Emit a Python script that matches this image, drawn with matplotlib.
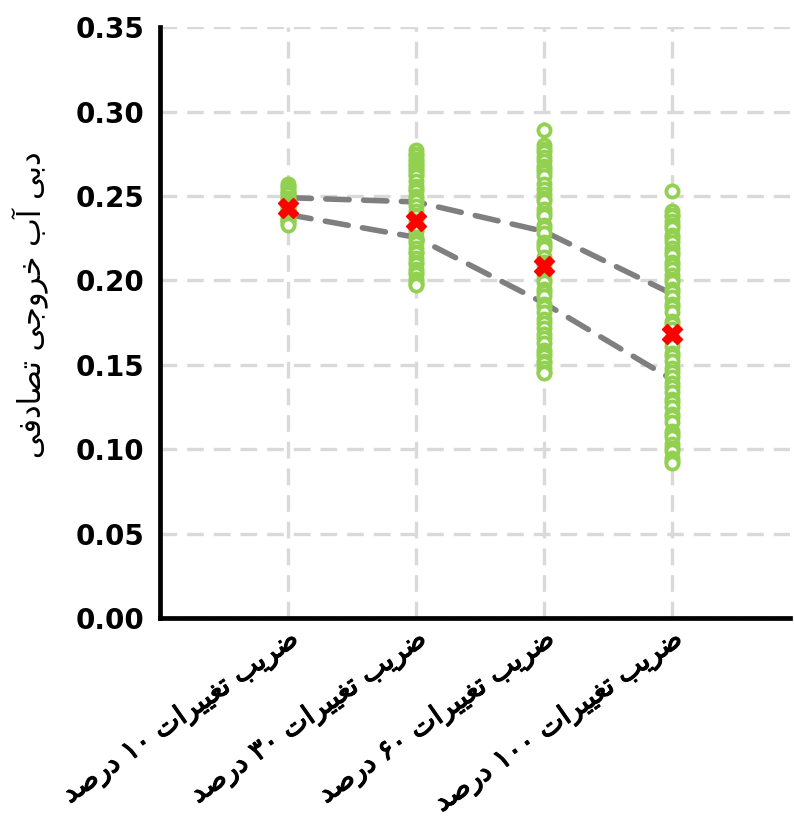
import matplotlib
matplotlib.use("Agg")
import matplotlib.pyplot as plt
import matplotlib.patheffects as pe

# ---------------------------------------------------------------------------
# Data
# ---------------------------------------------------------------------------
categories = [
    "ضریب تغییرات ۱۰ درصد",
    "ضریب تغییرات ۳۰ درصد",
    "ضریب تغییرات ۶۰ درصد",
    "ضریب تغییرات ۱۰۰ درصد",
]
y_label = "دبی آب خروجی تصادفی"

samples_cv10 = [0.257, 0.256, 0.255, 0.253, 0.252, 0.251, 0.249, 0.248,
                0.247, 0.246, 0.245, 0.244, 0.243, 0.242, 0.241, 0.240,
                0.239, 0.237, 0.236, 0.235, 0.234, 0.233]
samples_cv30 = [0.277, 0.275, 0.274, 0.272, 0.271, 0.269, 0.268, 0.266,
                0.265, 0.263, 0.262, 0.259, 0.256, 0.254, 0.253, 0.250,
                0.248, 0.247, 0.244, 0.241, 0.239, 0.238, 0.235, 0.232,
                0.230, 0.229, 0.226, 0.224, 0.222, 0.219, 0.217, 0.216,
                0.213, 0.211, 0.210, 0.207, 0.205, 0.204, 0.201, 0.199,
                0.198, 0.197]
samples_cv60 = [0.289, 0.280, 0.278, 0.276, 0.273, 0.271, 0.268, 0.266,
                0.264, 0.262, 0.257, 0.254, 0.251, 0.249, 0.247, 0.242,
                0.240, 0.238, 0.233, 0.231, 0.228, 0.223, 0.221, 0.219,
                0.214, 0.211, 0.209, 0.204, 0.201, 0.199, 0.195, 0.193,
                0.191, 0.186, 0.184, 0.181, 0.177, 0.175, 0.172, 0.168,
                0.166, 0.163, 0.159, 0.157, 0.155, 0.152, 0.151, 0.148,
                0.146, 0.145]
samples_cv100 = [0.253, 0.241, 0.239, 0.238, 0.235, 0.233, 0.231, 0.227,
                 0.225, 0.223, 0.219, 0.217, 0.215, 0.211, 0.209, 0.207,
                 0.203, 0.201, 0.199, 0.195, 0.193, 0.190, 0.186, 0.184,
                 0.181, 0.176, 0.174, 0.171, 0.166, 0.164, 0.161, 0.157,
                 0.155, 0.152, 0.148, 0.146, 0.143, 0.139, 0.137, 0.134,
                 0.130, 0.128, 0.125, 0.121, 0.119, 0.116, 0.111, 0.109,
                 0.107, 0.103, 0.101, 0.099, 0.095, 0.093, 0.092]

mean_values = [0.243, 0.235, 0.2085, 0.168]
upper_band = [0.249, 0.2465, 0.229, 0.192]
lower_band = [0.239, 0.2255, 0.1865, 0.1413]

y_ticks = [0.00, 0.05, 0.10, 0.15, 0.20, 0.25, 0.30, 0.35]

# ---------------------------------------------------------------------------
# Minimal Arabic/Persian shaping (presentation forms + visual reordering)
# ---------------------------------------------------------------------------
# char: (isolated, final, initial, medial); None for initial => right-joining
FORMS = {
    "آ": ("\uFE81", "\uFE82", None, None),
    "ا": ("\uFE8D", "\uFE8E", None, None),
    "ب": ("\uFE8F", "\uFE90", "\uFE91", "\uFE92"),
    "ت": ("\uFE95", "\uFE96", "\uFE97", "\uFE98"),
    "ج": ("\uFE9D", "\uFE9E", "\uFE9F", "\uFEA0"),
    "خ": ("\uFEA5", "\uFEA6", "\uFEA7", "\uFEA8"),
    "د": ("\uFEA9", "\uFEAA", None, None),
    "ر": ("\uFEAD", "\uFEAE", None, None),
    "ص": ("\uFEB9", "\uFEBA", "\uFEBB", "\uFEBC"),
    "ض": ("\uFEBD", "\uFEBE", "\uFEBF", "\uFEC0"),
    "غ": ("\uFECD", "\uFECE", "\uFECF", "\uFED0"),
    "ف": ("\uFED1", "\uFED2", "\uFED3", "\uFED4"),
    "و": ("\uFEED", "\uFEEE", None, None),
    "ی": ("\uFEEF", "\uFEF0", "\uFEF3", "\uFEF4"),
}


def _dual(c):
    return c in FORMS and FORMS[c][2] is not None


def shape_rtl(text):
    out = []
    n = len(text)
    for i, c in enumerate(text):
        if c not in FORMS:
            out.append(c)
            continue
        prev_c = text[i - 1] if i > 0 else ""
        next_c = text[i + 1] if i + 1 < n else ""
        join_prev = _dual(prev_c)
        join_next = _dual(c) and next_c in FORMS
        iso, fin, ini, med = FORMS[c]
        if join_prev and join_next:
            out.append(med)
        elif join_prev:
            out.append(fin)
        elif join_next:
            out.append(ini)
        else:
            out.append(iso)
    # visual order: reverse, keeping digit runs left-to-right
    rev = out[::-1]
    result, run = [], []
    for ch in rev:
        if ch.isdigit():
            run.append(ch)
        else:
            if run:
                result.extend(run[::-1])
                run = []
            result.append(ch)
    if run:
        result.extend(run[::-1])
    return "".join(result)


# ---------------------------------------------------------------------------
# Figure
# ---------------------------------------------------------------------------
fig = plt.figure(figsize=(7.94, 8.23), dpi=100)
ax = fig.add_axes([0.2015, 0.249, 0.7935, 0.718])

green = "#92D050"
positions = [1, 2, 3, 4]
groups = [samples_cv10, samples_cv30, samples_cv60, samples_cv100]

# confidence band lines
for band in (upper_band, lower_band):
    ax.plot(positions, band, color="#7F7F7F", lw=4.0, ls=(0, (4.2, 2.6)),
            dash_capstyle="round", zorder=2)

# sample points
for x, vals in zip(positions, groups):
    ax.plot([x] * len(vals), vals, ls="none", marker="o", ms=8.8, mew=2.7,
            mfc="white", mec=green, zorder=3)

# means
ax.plot(positions, mean_values, ls="none", marker="X", ms=14.5, color="#FF0000",
        mec="#FF0000", zorder=4)

ax.set_xlim(0.0, 4.92)
ax.set_ylim(0, 0.35)
ax.set_yticks(y_ticks)
ax.set_yticklabels([f"{t:.2f}" for t in y_ticks])
ax.set_xticks(positions)
heavy = [pe.withStroke(linewidth=0.9, foreground="black")]
ax.set_xticklabels([shape_rtl(c) for c in categories], rotation=35,
                   ha="right", va="top", rotation_mode="anchor",
                   fontsize=20, fontfamily="DejaVu Sans", path_effects=heavy)

for lbl in ax.get_yticklabels():
    lbl.set_fontfamily("DejaVu Sans")
    lbl.set_fontweight("bold")
    lbl.set_fontsize(20)

ax.tick_params(axis="y", length=0, pad=11)
ax.tick_params(axis="x", length=0, pad=5)

ax.grid(True, color="#D9D9D9", lw=2.4, ls=(0, (5, 3)))
ax.set_axisbelow(True)

for side in ("top", "right"):
    ax.spines[side].set_visible(False)
for side in ("left", "bottom"):
    ax.spines[side].set_linewidth(3.4)
    ax.spines[side].set_color("black")

ax.set_ylabel(shape_rtl(y_label), fontsize=22, fontfamily="DejaVu Sans")
ax.yaxis.set_label_coords(-0.178, 0.53)

fig.savefig("out.png", dpi=100)
